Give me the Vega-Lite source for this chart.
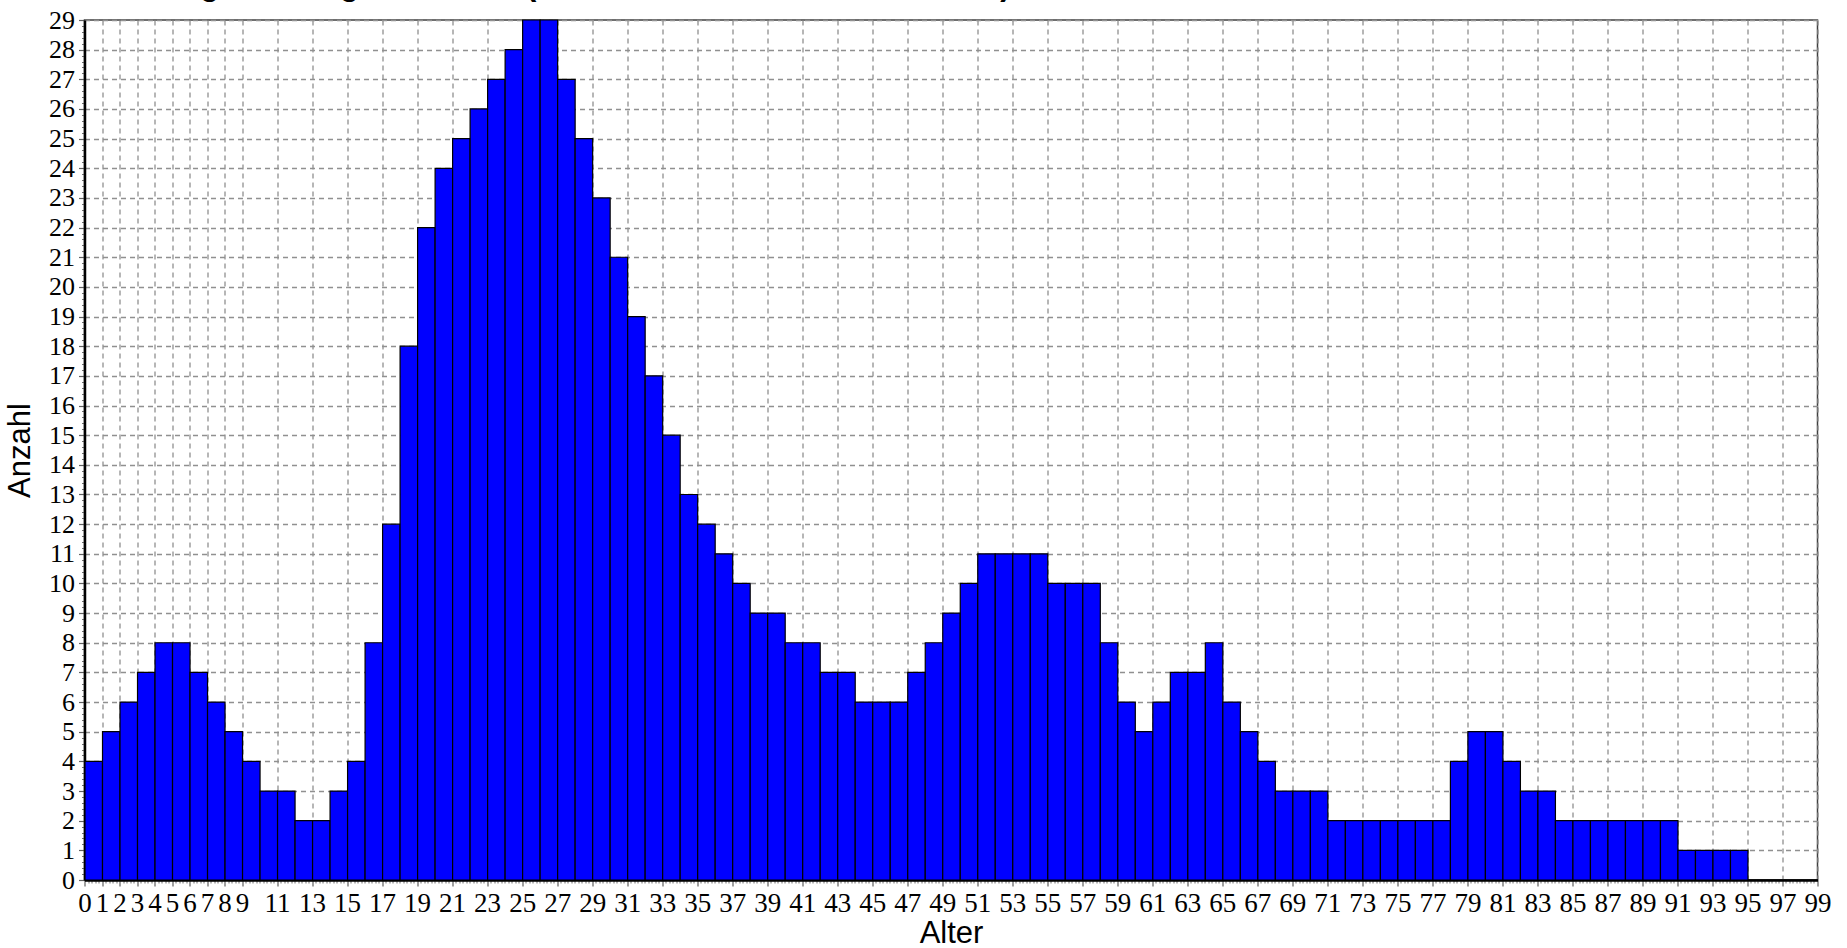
{
  "$schema": "https://vega.github.io/schema/vega-lite/v6.json",
  "autosize": "none",
  "width": 1733,
  "height": 860,
  "padding": {"left": 84.5, "top": 20, "right": 29.5, "bottom": 68},
  "background": "white",
  "title": {
    "text": "Altersgliederung Gemeinde (Einwohner nach Alter in Jahren)",
    "anchor": "start",
    "font": "Liberation Sans",
    "fontWeight": "bold",
    "fontSize": 31,
    "baseline": "alphabetic",
    "offset": 3,
    "dx": 108,
    "dy": 21.5,
    "color": "black"
  },
  "data": {
    "values": [
      {"Alter": 0, "Anzahl": 4}, {"Alter": 1, "Anzahl": 5}, {"Alter": 2, "Anzahl": 6}, {"Alter": 3, "Anzahl": 7},
      {"Alter": 4, "Anzahl": 8}, {"Alter": 5, "Anzahl": 8}, {"Alter": 6, "Anzahl": 7}, {"Alter": 7, "Anzahl": 6},
      {"Alter": 8, "Anzahl": 5}, {"Alter": 9, "Anzahl": 4}, {"Alter": 10, "Anzahl": 3}, {"Alter": 11, "Anzahl": 3},
      {"Alter": 12, "Anzahl": 2}, {"Alter": 13, "Anzahl": 2}, {"Alter": 14, "Anzahl": 3}, {"Alter": 15, "Anzahl": 4},
      {"Alter": 16, "Anzahl": 8}, {"Alter": 17, "Anzahl": 12}, {"Alter": 18, "Anzahl": 18}, {"Alter": 19, "Anzahl": 22},
      {"Alter": 20, "Anzahl": 24}, {"Alter": 21, "Anzahl": 25}, {"Alter": 22, "Anzahl": 26}, {"Alter": 23, "Anzahl": 27},
      {"Alter": 24, "Anzahl": 28}, {"Alter": 25, "Anzahl": 29}, {"Alter": 26, "Anzahl": 29}, {"Alter": 27, "Anzahl": 27},
      {"Alter": 28, "Anzahl": 25}, {"Alter": 29, "Anzahl": 23}, {"Alter": 30, "Anzahl": 21}, {"Alter": 31, "Anzahl": 19},
      {"Alter": 32, "Anzahl": 17}, {"Alter": 33, "Anzahl": 15}, {"Alter": 34, "Anzahl": 13}, {"Alter": 35, "Anzahl": 12},
      {"Alter": 36, "Anzahl": 11}, {"Alter": 37, "Anzahl": 10}, {"Alter": 38, "Anzahl": 9}, {"Alter": 39, "Anzahl": 9},
      {"Alter": 40, "Anzahl": 8}, {"Alter": 41, "Anzahl": 8}, {"Alter": 42, "Anzahl": 7}, {"Alter": 43, "Anzahl": 7},
      {"Alter": 44, "Anzahl": 6}, {"Alter": 45, "Anzahl": 6}, {"Alter": 46, "Anzahl": 6}, {"Alter": 47, "Anzahl": 7},
      {"Alter": 48, "Anzahl": 8}, {"Alter": 49, "Anzahl": 9}, {"Alter": 50, "Anzahl": 10}, {"Alter": 51, "Anzahl": 11},
      {"Alter": 52, "Anzahl": 11}, {"Alter": 53, "Anzahl": 11}, {"Alter": 54, "Anzahl": 11}, {"Alter": 55, "Anzahl": 10},
      {"Alter": 56, "Anzahl": 10}, {"Alter": 57, "Anzahl": 10}, {"Alter": 58, "Anzahl": 8}, {"Alter": 59, "Anzahl": 6},
      {"Alter": 60, "Anzahl": 5}, {"Alter": 61, "Anzahl": 6}, {"Alter": 62, "Anzahl": 7}, {"Alter": 63, "Anzahl": 7},
      {"Alter": 64, "Anzahl": 8}, {"Alter": 65, "Anzahl": 6}, {"Alter": 66, "Anzahl": 5}, {"Alter": 67, "Anzahl": 4},
      {"Alter": 68, "Anzahl": 3}, {"Alter": 69, "Anzahl": 3}, {"Alter": 70, "Anzahl": 3}, {"Alter": 71, "Anzahl": 2},
      {"Alter": 72, "Anzahl": 2}, {"Alter": 73, "Anzahl": 2}, {"Alter": 74, "Anzahl": 2}, {"Alter": 75, "Anzahl": 2},
      {"Alter": 76, "Anzahl": 2}, {"Alter": 77, "Anzahl": 2}, {"Alter": 78, "Anzahl": 4}, {"Alter": 79, "Anzahl": 5},
      {"Alter": 80, "Anzahl": 5}, {"Alter": 81, "Anzahl": 4}, {"Alter": 82, "Anzahl": 3}, {"Alter": 83, "Anzahl": 3},
      {"Alter": 84, "Anzahl": 2}, {"Alter": 85, "Anzahl": 2}, {"Alter": 86, "Anzahl": 2}, {"Alter": 87, "Anzahl": 2},
      {"Alter": 88, "Anzahl": 2}, {"Alter": 89, "Anzahl": 2}, {"Alter": 90, "Anzahl": 2}, {"Alter": 91, "Anzahl": 1},
      {"Alter": 92, "Anzahl": 1}, {"Alter": 93, "Anzahl": 1}, {"Alter": 94, "Anzahl": 1}, {"Alter": 95, "Anzahl": 0},
      {"Alter": 96, "Anzahl": 0}, {"Alter": 97, "Anzahl": 0}, {"Alter": 98, "Anzahl": 0}
    ]
  },
  "layer": [
    {
      "mark": {"type": "rule", "opacity": 0},
      "encoding": {
        "x": {
          "field": "Alter",
          "type": "quantitative",
          "scale": {"domain": [0, 99], "nice": false, "zero": false},
          "axis": {
            "orient": "bottom",
            "title": null,
            "labels": false,
            "domain": false,
            "grid": false,
            "tickSize": 3,
            "tickColor": "#707070",
            "tickWidth": 1,
            "values": [0.2,0.4,0.6,0.8,1.2,1.4,1.6,1.8,2.2,2.4,2.6,2.8,3.2,3.4,3.6,3.8,4.2,4.4,4.6,4.8,5.2,5.4,5.6,5.8,6.2,6.4,6.6,6.8,7.2,7.4,7.6,7.8,8.2,8.4,8.6,8.8,9.2,9.4,9.6,9.8,10,10.2,10.4,10.6,10.8,11.2,11.4,11.6,11.8,12,12.2,12.4,12.6,12.8,13.2,13.4,13.6,13.8,14,14.2,14.4,14.6,14.8,15.2,15.4,15.6,15.8,16,16.2,16.4,16.6,16.8,17.2,17.4,17.6,17.8,18,18.2,18.4,18.6,18.8,19.2,19.4,19.6,19.8,20,20.2,20.4,20.6,20.8,21.2,21.4,21.6,21.8,22,22.2,22.4,22.6,22.8,23.2,23.4,23.6,23.8,24,24.2,24.4,24.6,24.8,25.2,25.4,25.6,25.8,26,26.2,26.4,26.6,26.8,27.2,27.4,27.6,27.8,28,28.2,28.4,28.6,28.8,29.2,29.4,29.6,29.8,30,30.2,30.4,30.6,30.8,31.2,31.4,31.6,31.8,32,32.2,32.4,32.6,32.8,33.2,33.4,33.6,33.8,34,34.2,34.4,34.6,34.8,35.2,35.4,35.6,35.8,36,36.2,36.4,36.6,36.8,37.2,37.4,37.6,37.8,38,38.2,38.4,38.6,38.8,39.2,39.4,39.6,39.8,40,40.2,40.4,40.6,40.8,41.2,41.4,41.6,41.8,42,42.2,42.4,42.6,42.8,43.2,43.4,43.6,43.8,44,44.2,44.4,44.6,44.8,45.2,45.4,45.6,45.8,46,46.2,46.4,46.6,46.8,47.2,47.4,47.6,47.8,48,48.2,48.4,48.6,48.8,49.2,49.4,49.6,49.8,50,50.2,50.4,50.6,50.8,51.2,51.4,51.6,51.8,52,52.2,52.4,52.6,52.8,53.2,53.4,53.6,53.8,54,54.2,54.4,54.6,54.8,55.2,55.4,55.6,55.8,56,56.2,56.4,56.6,56.8,57.2,57.4,57.6,57.8,58,58.2,58.4,58.6,58.8,59.2,59.4,59.6,59.8,60,60.2,60.4,60.6,60.8,61.2,61.4,61.6,61.8,62,62.2,62.4,62.6,62.8,63.2,63.4,63.6,63.8,64,64.2,64.4,64.6,64.8,65.2,65.4,65.6,65.8,66,66.2,66.4,66.6,66.8,67.2,67.4,67.6,67.8,68,68.2,68.4,68.6,68.8,69.2,69.4,69.6,69.8,70,70.2,70.4,70.6,70.8,71.2,71.4,71.6,71.8,72,72.2,72.4,72.6,72.8,73.2,73.4,73.6,73.8,74,74.2,74.4,74.6,74.8,75.2,75.4,75.6,75.8,76,76.2,76.4,76.6,76.8,77.2,77.4,77.6,77.8,78,78.2,78.4,78.6,78.8,79.2,79.4,79.6,79.8,80,80.2,80.4,80.6,80.8,81.2,81.4,81.6,81.8,82,82.2,82.4,82.6,82.8,83.2,83.4,83.6,83.8,84,84.2,84.4,84.6,84.8,85.2,85.4,85.6,85.8,86,86.2,86.4,86.6,86.8,87.2,87.4,87.6,87.8,88,88.2,88.4,88.6,88.8,89.2,89.4,89.6,89.8,90,90.2,90.4,90.6,90.8,91.2,91.4,91.6,91.8,92,92.2,92.4,92.6,92.8,93.2,93.4,93.6,93.8,94,94.2,94.4,94.6,94.8,95.2,95.4,95.6,95.8,96,96.2,96.4,96.6,96.8,97.2,97.4,97.6,97.8,98,98.2,98.4,98.6,98.8]
          }
        },
        "y": {
          "field": "Anzahl",
          "type": "quantitative",
          "scale": {"domain": [0, 29], "nice": false},
          "axis": {
            "orient": "left",
            "title": null,
            "labels": false,
            "domain": false,
            "grid": false,
            "tickSize": 3,
            "tickColor": "#707070",
            "tickWidth": 1,
            "values": [0.2,0.4,0.6,0.8,1.2,1.4,1.6,1.8,2.2,2.4,2.6,2.8,3.2,3.4,3.6,3.8,4.2,4.4,4.6,4.8,5.2,5.4,5.6,5.8,6.2,6.4,6.6,6.8,7.2,7.4,7.6,7.8,8.2,8.4,8.6,8.8,9.2,9.4,9.6,9.8,10.2,10.4,10.6,10.8,11.2,11.4,11.6,11.8,12.2,12.4,12.6,12.8,13.2,13.4,13.6,13.8,14.2,14.4,14.6,14.8,15.2,15.4,15.6,15.8,16.2,16.4,16.6,16.8,17.2,17.4,17.6,17.8,18.2,18.4,18.6,18.8,19.2,19.4,19.6,19.8,20.2,20.4,20.6,20.8,21.2,21.4,21.6,21.8,22.2,22.4,22.6,22.8,23.2,23.4,23.6,23.8,24.2,24.4,24.6,24.8,25.2,25.4,25.6,25.8,26.2,26.4,26.6,26.8,27.2,27.4,27.6,27.8,28.2,28.4,28.6,28.8]
          }
        }
      }
    },
    {
      "mark": {"type": "bar", "fill": "#0000FF", "stroke": "black", "strokeWidth": 1.2, "binSpacing": 0},
      "encoding": {
        "x": {
          "field": "Alter",
          "type": "quantitative",
          "bin": {"step": 1, "extent": [0, 99]},
          "scale": {"domain": [0, 99], "nice": false, "zero": false},
          "axis": {
            "orient": "bottom",
            "title": "Alter",
            "values": [0,1,2,3,4,5,6,7,8,9,11,13,15,17,19,21,23,25,27,29,31,33,35,37,39,41,43,45,47,49,51,53,55,57,59,61,63,65,67,69,71,73,75,77,79,81,83,85,87,89,91,93,95,97,99],
            "labelFont": "Liberation Sans Narrow",
            "labelFontSize": 27,
            "labelColor": "black",
            "labelPadding": 4,
            "labelOverlap": false,
            "labelFlush": false,
            "tickSize": 6,
            "tickColor": "#606060",
            "tickWidth": 1.2,
            "domainColor": "black",
            "domainWidth": 2.5,
            "grid": true,
            "gridColor": "#909090",
            "gridDash": [5, 4],
            "gridWidth": 1.3,
            "titleFont": "Liberation Sans",
            "titleFontSize": 31,
            "titleFontWeight": "normal",
            "titleColor": "black",
            "titlePadding": 2
          }
        },
        "y": {
          "field": "Anzahl",
          "type": "quantitative",
          "scale": {"domain": [0, 29], "nice": false},
          "axis": {
            "orient": "left",
            "title": "Anzahl",
            "values": [0,1,2,3,4,5,6,7,8,9,10,11,12,13,14,15,16,17,18,19,20,21,22,23,24,25,26,27,28,29],
            "labelFont": "Liberation Sans Narrow",
            "labelFontSize": 26,
            "labelColor": "black",
            "labelPadding": 4,
            "labelOverlap": false,
            "labelFlush": false,
            "tickSize": 6,
            "tickColor": "#606060",
            "tickWidth": 1.2,
            "domainColor": "black",
            "domainWidth": 2.5,
            "grid": true,
            "gridColor": "#909090",
            "gridDash": [5, 4],
            "gridWidth": 1.3,
            "titleFont": "Liberation Sans",
            "titleFontSize": 31,
            "titleFontWeight": "normal",
            "titleColor": "black",
            "titlePadding": 12
          }
        }
      }
    }
  ],
  "resolve": {"axis": {"x": "independent", "y": "independent"}},
  "config": {
    "view": {"stroke": "#404040", "strokeWidth": 1.5}
  }
}
